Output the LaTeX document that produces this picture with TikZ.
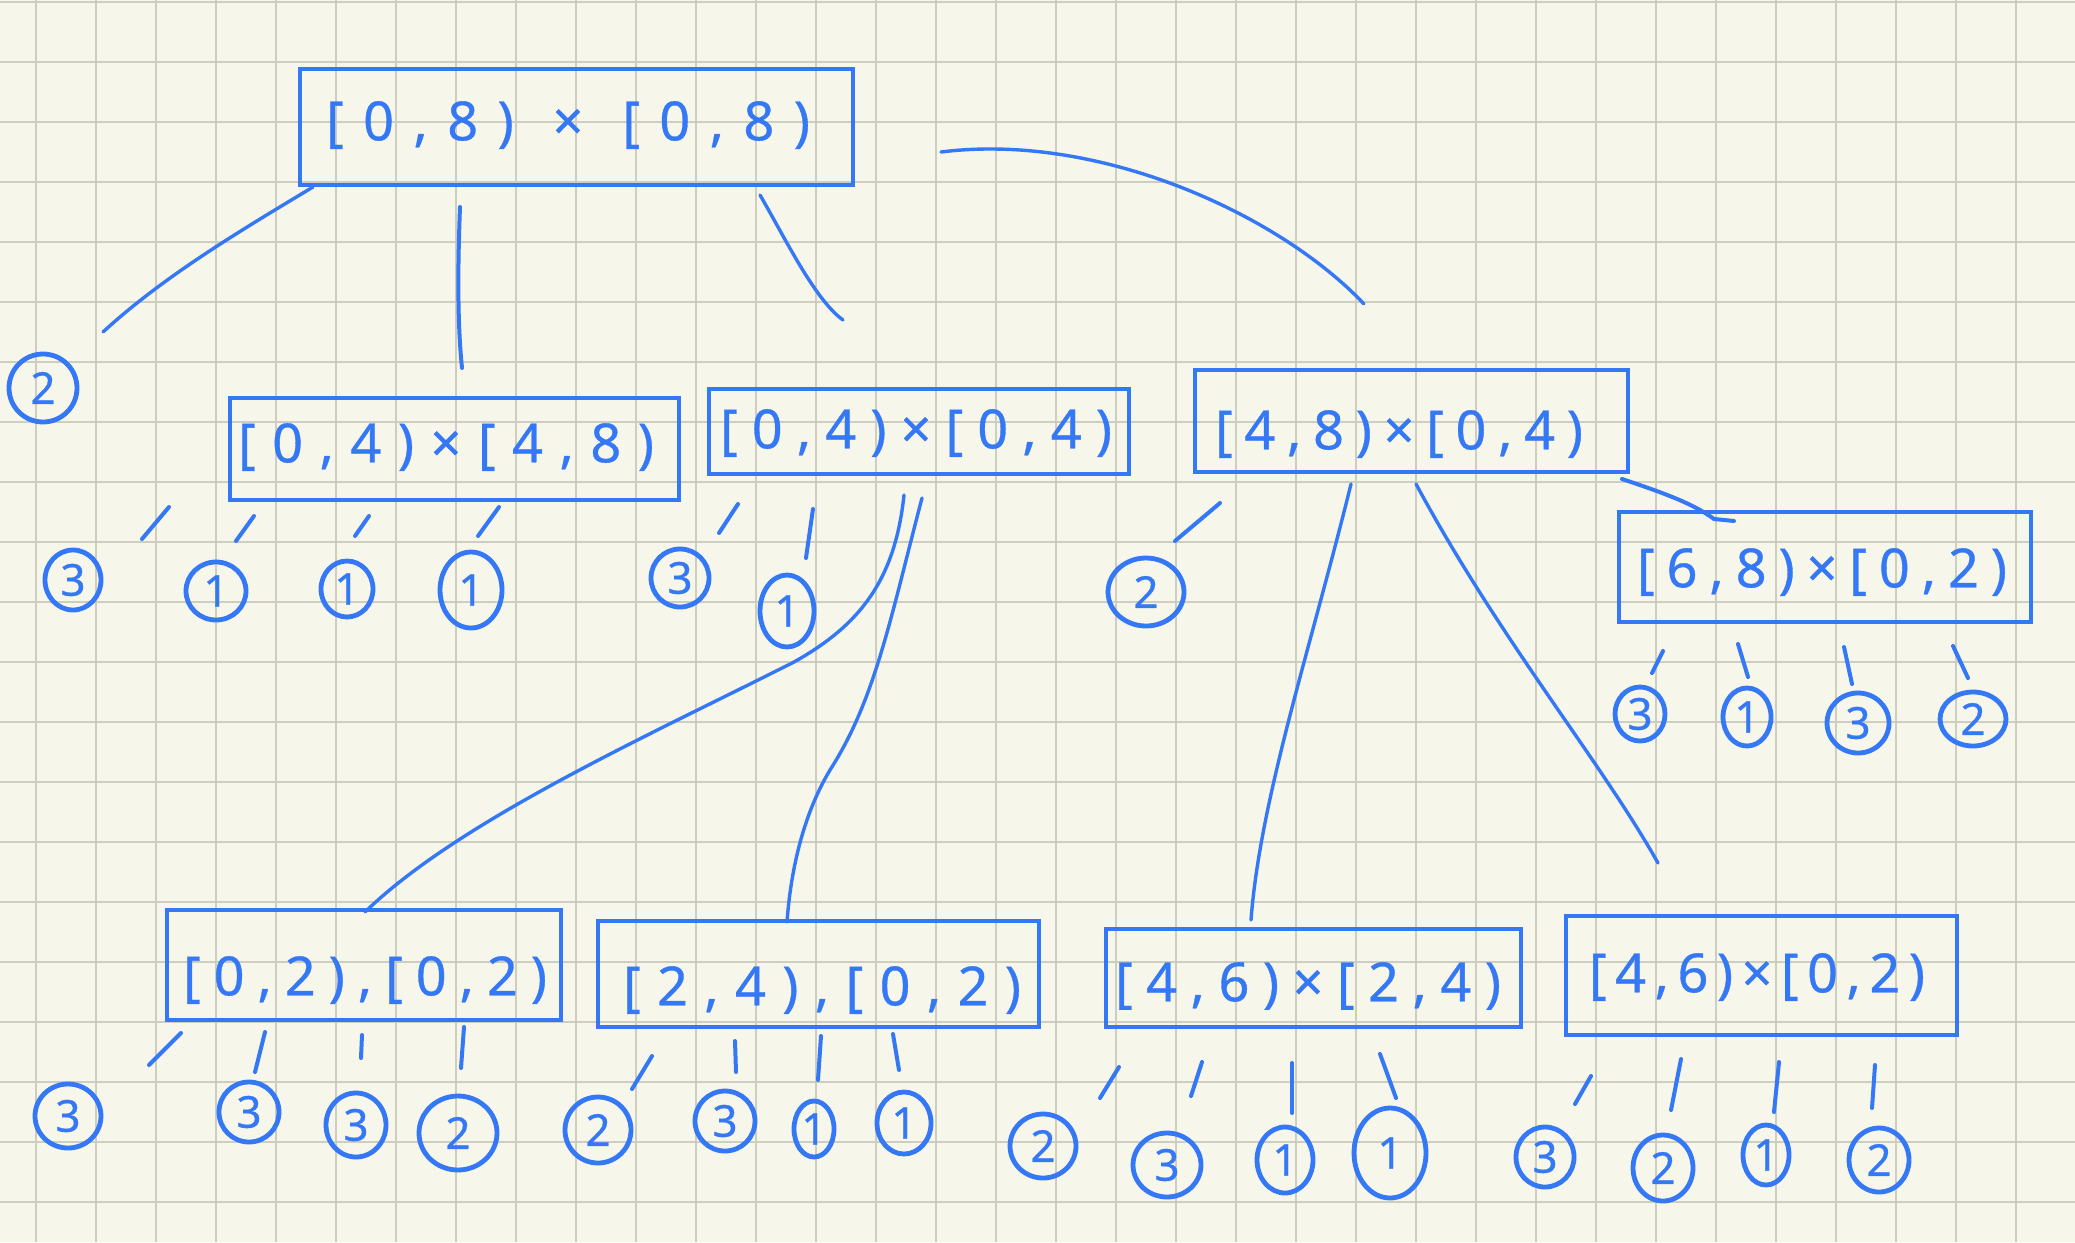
\documentclass[tikz,border=0pt]{standalone}
\usepackage{fontspec}
\setmainfont{Noto Sans}
\usetikzlibrary{shapes.geometric}
\definecolor{ink}{RGB}{52,120,246}
\definecolor{paper}{RGB}{246,246,234}
\definecolor{gridc}{RGB}{205,205,192}
\newcommand\hsk{\hfill}
\newcommand\spreadtxt[2]{\makebox[#1][s]{#2}}
\begin{document}
\begin{tikzpicture}[x=0.5pt,y=-0.5pt,
  boxn/.style={draw=ink, line width=2.2pt, rectangle, inner sep=0pt},
  boxt/.style={inner sep=0pt, text=ink, font=\fontsize{27}{30}\selectfont\addfontfeature{FakeBold=0.6}},
  ring/.style={draw=ink, line width=2.4pt, ellipse, inner sep=0pt, text=ink, font=\fontsize{22}{24}\selectfont\addfontfeature{FakeBold=0.6}},
  tick/.style={draw=ink, line width=2pt, line cap=round},
  link/.style={draw=ink, line width=1.7pt, line cap=round, line join=round}]
\useasboundingbox (0,0) rectangle (2075,1242);
\fill[paper] (0,0) rectangle (2075,1242);
\foreach \gx in {36,96,...,2016} \draw[gridc, line width=0.8pt] (\gx,0) -- (\gx,1242);
\foreach \gy in {2,62,...,1202} \draw[gridc, line width=0.8pt] (0,\gy) -- (2075,\gy);

% boxes
\node[boxn, minimum width=276.5pt, minimum height=58pt] (T) at (576.5,127) {};
\node[boxt] (Tt) at (568,125) {\spreadtxt{242pt}{[\hsk0\hsk,\hsk8\hsk)\hsk\hsk×\hsk\hsk[\hsk0\hsk,\hsk8\hsk)}};
\node[boxn, minimum width=224.5pt, minimum height=51pt] (A) at (454.5,449) {};
\node[boxt] (At) at (446,447) {\spreadtxt{208pt}{[\hsk0\hsk,\hsk4\hsk)\hsk×\hsk[\hsk4\hsk,\hsk8\hsk)}};
\node[boxn, minimum width=210pt, minimum height=42.5pt] (B) at (919,431.5) {};
\node[boxt] (Bt) at (916,433) {\spreadtxt{196pt}{[\hsk0\hsk,\hsk4\hsk)\hsk×\hsk[\hsk0\hsk,\hsk4\hsk)}};
\node[boxn, minimum width=216.5pt, minimum height=51pt] (C) at (1411.5,421) {};
\node[boxt] (Ct) at (1399,434) {\spreadtxt{184pt}{[\hsk4\hsk,\hsk8\hsk)\hsk×\hsk[\hsk0\hsk,\hsk4\hsk)}};
\node[boxn, minimum width=206pt, minimum height=55pt] (D) at (1825,567) {};
\node[boxt] (Dt) at (1822,572) {\spreadtxt{185pt}{[\hsk6\hsk,\hsk8\hsk)\hsk×\hsk[\hsk0\hsk,\hsk2\hsk)}};
\node[boxn, minimum width=197pt, minimum height=55pt] (E) at (364,965) {};
\node[boxt] (Et) at (365,980) {\spreadtxt{182pt}{[\hsk0\hsk,\hsk2\hsk)\hsk,\hsk[\hsk0\hsk,\hsk2\hsk)}};
\node[boxn, minimum width=220.5pt, minimum height=53pt] (F) at (818.5,974) {};
\node[boxt] (Ft) at (822,990) {\spreadtxt{199pt}{[\hsk2\hsk,\hsk4\hsk)\hsk,\hsk[\hsk0\hsk,\hsk2\hsk)}};
\node[boxn, minimum width=207.5pt, minimum height=49pt] (G) at (1313.5,978) {};
\node[boxt] (Gt) at (1308,986) {\spreadtxt{193pt}{[\hsk4\hsk,\hsk6\hsk)\hsk×\hsk[\hsk2\hsk,\hsk4\hsk)}};
\node[boxn, minimum width=195.5pt, minimum height=59.5pt] (H) at (1761.5,975.5) {};
\node[boxt] (Ht) at (1757,977) {\spreadtxt{168pt}{[\hsk4\hsk,\hsk6\hsk)\hsk×\hsk[\hsk0\hsk,\hsk2\hsk)}};

% circled numbers
\node[ring, minimum width=34pt, minimum height=34pt] (z0) at (43,388) {2};
\node[ring, minimum width=28pt, minimum height=30pt] (a1) at (73,580) {3};
\node[ring, minimum width=30pt, minimum height=29pt] (a2) at (216,591) {1};
\node[ring, minimum width=26pt, minimum height=28pt] (a3) at (347,589) {1};
\node[ring, minimum width=31pt, minimum height=38pt] (a4) at (471,590) {1};
\node[ring, minimum width=29pt, minimum height=29pt] (b1) at (680,578) {3};
\node[ring, minimum width=27pt, minimum height=36pt] (b2) at (787,611) {1};
\node[ring, minimum width=38pt, minimum height=34pt] (c1) at (1146,592) {2};
\node[ring, minimum width=25pt, minimum height=27pt] (d1) at (1640,714) {3};
\node[ring, minimum width=24pt, minimum height=29pt] (d2) at (1747,717) {1};
\node[ring, minimum width=31pt, minimum height=30pt] (d3) at (1858,723) {3};
\node[ring, minimum width=33pt, minimum height=27pt] (d4) at (1973,719) {2};
\node[ring, minimum width=33pt, minimum height=32pt] (e1) at (68,1116) {3};
\node[ring, minimum width=30pt, minimum height=30pt] (e2) at (249,1112) {3};
\node[ring, minimum width=30pt, minimum height=32pt] (e3) at (356,1125) {3};
\node[ring, minimum width=39pt, minimum height=37pt] (e4) at (458,1133) {2};
\node[ring, minimum width=33pt, minimum height=33pt] (f1) at (598,1130) {2};
\node[ring, minimum width=30pt, minimum height=30pt] (f2) at (725,1121) {3};
\node[ring, minimum width=20pt, minimum height=28pt] (f3) at (814,1129) {1};
\node[ring, minimum width=27pt, minimum height=31pt] (f4) at (904,1123) {1};
\node[ring, minimum width=33pt, minimum height=32pt] (g1) at (1043,1146) {2};
\node[ring, minimum width=34pt, minimum height=32pt] (g2) at (1167,1165) {3};
\node[ring, minimum width=28pt, minimum height=33pt] (g3) at (1285,1160) {1};
\node[ring, minimum width=36pt, minimum height=45pt] (g4) at (1390,1153) {1};
\node[ring, minimum width=29pt, minimum height=30pt] (h1) at (1545,1157) {3};
\node[ring, minimum width=30pt, minimum height=33pt] (h2) at (1663,1168) {2};
\node[ring, minimum width=23pt, minimum height=30pt] (h3) at (1766,1155) {1};
\node[ring, minimum width=30pt, minimum height=32pt] (h4) at (1879,1160) {2};

% short ticks
\foreach \nm/\xa/\ya/\xb/\yb in {
  ta1/169/507/142/539, ta2/254/516/236/541, ta3/369/516/355/536, ta4/499/507/478/536,
  tb1/738/504/719/533, tb2/813/509/806/558, tc1/1220/503/1175/541,
  td1/1663/651/1652/673, td2/1738/644/1748/677, td3/1844/647/1852/684, td4/1953/646/1968/678,
  te1/181/1033/149/1065, te2/265/1032/255/1072, te3/362/1035/361/1058, te4/464/1027/461/1068,
  tf1/652/1056/632/1089, tf2/735/1041/736/1072, tf3/821/1036/818/1080, tf4/893/1034/899/1070,
  tg1/1119/1067/1100/1098, tg2/1202/1062/1191/1096, tg3/1292/1063/1292/1113, tg4/1380/1054/1396/1098,
  th1/1591/1076/1575/1104, th2/1681/1059/1671/1110, th3/1779/1062/1774/1112, th4/1875/1065/1872/1108}
{
  \coordinate (\nm s) at (\xa,\ya);
  \coordinate (\nm e) at (\xb,\yb);
  \draw[tick] (\nm s) -- (\nm e);
}

% long links
\coordinate (l1s) at (313,187); \coordinate (l1e) at (103,332);
\draw[link] (l1s) .. controls (245,228) and (165,275) .. (l1e);
\coordinate (l2s) at (460,207); \coordinate (l2e) at (462,368);
\draw[link, line width=2pt] (l2s) .. controls (458,260) and (457,320) .. (l2e);
\coordinate (l3s) at (760,195); \coordinate (l3e) at (843,320);
\draw[link] (l3s) .. controls (785,238) and (815,300) .. (l3e);
\coordinate (l4s) at (941,152); \coordinate (l4e) at (1364,304);
\draw[link] (l4s) .. controls (1100,132) and (1280,215) .. (l4e);
\coordinate (l5s) at (1622,479); \coordinate (l5e) at (1734,521);
\draw[link, line width=2pt] (l5s) .. controls (1670,495) and (1695,505) .. (1714,519) -- (l5e);
\coordinate (l6s) at (904,495); \coordinate (l6m) at (794,662); \coordinate (l6e) at (365,912);
\draw[link] (l6s) .. controls (895,580) and (860,625) .. (l6m) .. controls (650,735) and (460,820) .. (l6e);
\coordinate (l7s) at (922,498); \coordinate (l7e) at (787,922);
\draw[link] (l7s) .. controls (890,620) and (875,700) .. (830,770) .. controls (800,820) and (790,880) .. (l7e);
\coordinate (l8s) at (1351,484); \coordinate (l8e) at (1251,920);
\draw[link] (l8s) .. controls (1310,650) and (1260,800) .. (l8e);
\coordinate (l9s) at (1416,484); \coordinate (l9e) at (1658,863);
\draw[link] (l9s) .. controls (1500,640) and (1600,760) .. (l9e);
\end{tikzpicture}
\end{document}
